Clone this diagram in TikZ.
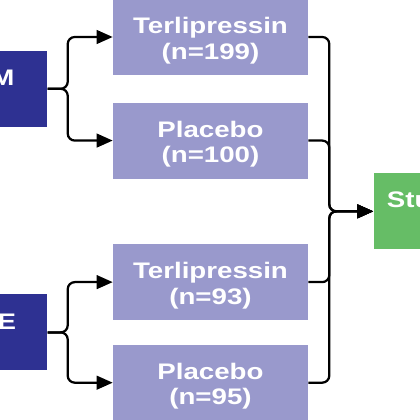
\documentclass[tikz,border=0pt]{standalone}
\usepackage{fontspec}
\setmainfont{Liberation Sans}[FakeStretch=1.23]
\usepackage{tikz}
\usetikzlibrary{arrows.meta, positioning, calc}
\definecolor{trialblue}{RGB}{46, 49, 146}
\definecolor{armlilac}{RGB}{153, 153, 204}
\definecolor{poolgreen}{RGB}{102, 189, 102}

\begin{document}
\begin{tikzpicture}[
  trial/.style={rectangle, fill=trialblue, minimum height=1.9cm, minimum width=4.875cm,
                align=center, text=white, text height=1.22cm,
                font=\fontsize{16}{18.1}\selectfont\bfseries},
  arm/.style={trial, fill=armlilac},
  pool/.style={trial, fill=poolgreen, minimum width=5.625cm},
  link/.style={line width=1.6pt, rounded corners=5pt, color=black},
  arrow/.style={link, -{Triangle[length=0.4cm, width=0.34cm]}},
]
  \clip (0,0) rectangle (10.5,10.5);

  % Treatment arms
  \node[arm] (terA) at (5.2625,9.575) {Terlipressin\\(n=199)};
  \node[arm, below=0.675cm of terA] (plaA) {Placebo\\(n=100)};
  \node[arm, below=1.625cm of plaA] (terB) {Terlipressin\\(n=93)};
  \node[arm, below=0.6cm of terB] (plaB) {Placebo\\(n=95)};

  % Trials
  \path (terA.west) -- (plaA.west) coordinate[midway] (midA);
  \path (terB.west) -- (plaB.west) coordinate[midway] (midB);
  \node[trial, left=1.625cm of midA] (confirm) {CONFIRM\\(n=299)};
  \node[trial, left=1.625cm of midB] (reverse) {REVERSE\\(n=188)};

  % Pooled set
  \coordinate (jr) at ($(plaA.east)!0.5!(terB.east) + (0.525,0)$);
  \node[pool, right=1.1cm of jr] (pool) {Studies pooled\\(n=487)};

  \coordinate[right=0.5cm of confirm.east] (jlA);
  \coordinate[right=0.5cm of reverse.east] (jlB);
  \draw[arrow] (confirm.east) -- (jlA) |- (terA.west);
  \draw[arrow] (confirm.east) -- (jlA) |- (plaA.west);
  \draw[arrow] (reverse.east) -- (jlB) |- (terB.west);
  \draw[arrow] (reverse.east) -- (jlB) |- (plaB.west);

  \foreach \a in {terA, plaA, terB, plaB}
    \draw[arrow] (\a.east) -| (jr) -- (pool.west);
\end{tikzpicture}
\end{document}
